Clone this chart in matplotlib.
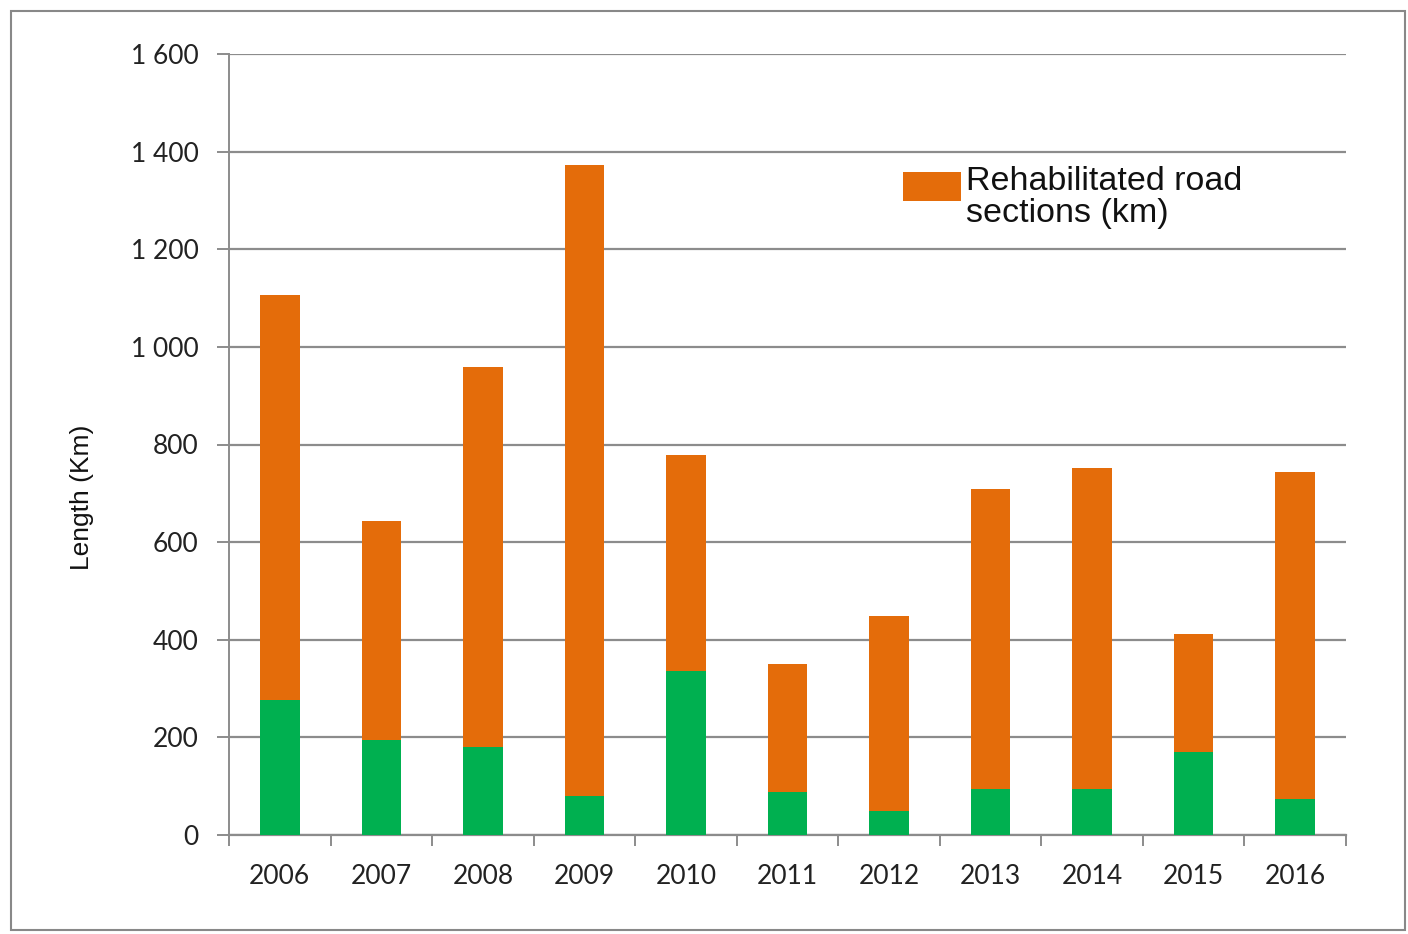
import matplotlib
matplotlib.use("Agg")
import matplotlib.pyplot as plt
from matplotlib.patches import Rectangle
from matplotlib.ticker import FuncFormatter, FixedLocator
import numpy as np

years = ["2006", "2007", "2008", "2009", "2010", "2011", "2012", "2013", "2014", "2015", "2016"]
green_km = [277, 195, 180, 80, 336, 89, 49, 95, 94, 171, 73]
rehab_km = [829, 448, 779, 1293, 443, 261, 400, 614, 658, 241, 671]
legend_label = "Rehabilitated road\nsections (km)"
y_ticks = [0, 200, 400, 600, 800, 1000, 1200, 1400, 1600]

ORANGE = "#E46C0A"
GREEN = "#00B050"
GRID = "#8C8C8C"

W, H = 1408, 934
fig = plt.figure(figsize=(W / 100, H / 100), dpi=100)
fig.patch.set_facecolor("white")

def fx(px):
    return px / W

def fy(py):
    return 1 - py / H

# outer frame
fig.add_artist(Rectangle((fx(11), fy(930)), (1405 - 11) / W, (930 - 11) / H,
                         transform=fig.transFigure, fill=False, edgecolor="#888888", lw=1.5))

ax_l, ax_r, ax_t, ax_b = 229, 1346, 54, 835
ax = fig.add_axes([fx(ax_l), fy(ax_b), (ax_r - ax_l) / W, (ax_b - ax_t) / H])

x = np.arange(len(years))
ax.bar(x, green_km, width=0.39, color=GREEN, zorder=3)
bars = ax.bar(x, rehab_km, width=0.39, bottom=green_km, color=ORANGE, zorder=3)

ax.set_xlim(-0.5, len(years) - 0.5)
ax.set_ylim(0, 1600)
ax.set_yticks(y_ticks)
ax.yaxis.set_major_formatter(FuncFormatter(lambda v, p: f"{int(v):,}".replace(",", " ")))
ax.grid(axis="y", color=GRID, lw=1.6, zorder=0)
ax.set_axisbelow(True)

for s in ["top", "right"]:
    ax.spines[s].set_visible(False)
ax.spines["left"].set_color(GRID)
ax.spines["left"].set_linewidth(1.4)
ax.spines["bottom"].set_color(GRID)
ax.spines["bottom"].set_linewidth(1.6)

# x ticks: labels at centers, tick marks at category boundaries
ax.set_xticks(x)
ax.set_xticklabels(years, fontfamily="Lato", fontsize=19, color="#222222")
ax.tick_params(axis="x", which="major", length=0, pad=21)
ax.xaxis.set_minor_locator(FixedLocator(np.arange(-0.5, len(years), 1.0)))
ax.tick_params(axis="x", which="minor", length=8, width=1.4, color=GRID, direction="out")

ax.tick_params(axis="y", length=9, width=1.4, color=GRID, pad=13)
for lab in ax.get_yticklabels():
    lab.set_fontfamily("Lato")
    lab.set_fontsize(19)
    lab.set_color("#222222")

fig.text(fx(82), fy(497), "Length (Km)", rotation=90, ha="center", va="center",
         fontfamily="Liberation Sans", fontsize=19, color="#111111")

# legend (patch aligned with first line of label, as in the reference)
fig.add_artist(Rectangle((fx(903), fy(201)), (961 - 903) / W, (201 - 172) / H,
                         transform=fig.transFigure, facecolor=ORANGE, edgecolor="none"))
fig.text(fx(966), fy(166), legend_label, ha="left", va="top",
         fontfamily="Liberation Sans", fontsize=24.5, color="#111111", linespacing=1.05)

fig.savefig("out.png", dpi=100, facecolor="white")
